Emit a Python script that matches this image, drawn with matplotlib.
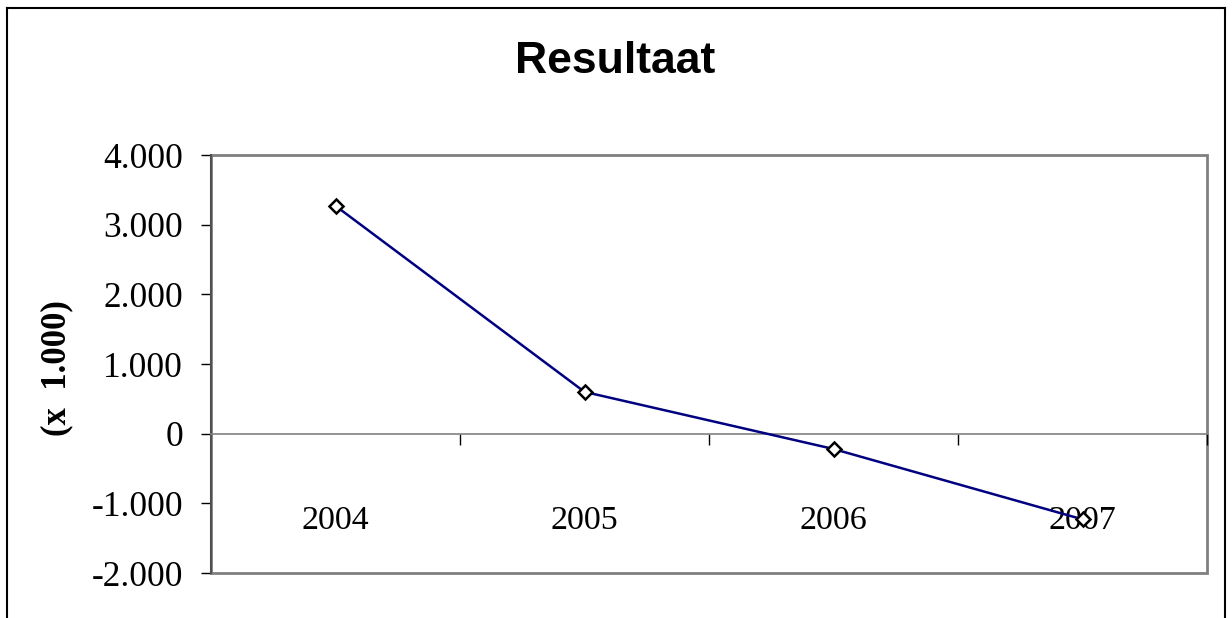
import matplotlib
matplotlib.use("Agg")
import matplotlib.pyplot as plt
from matplotlib.patches import Rectangle
from matplotlib.lines import Line2D
from matplotlib.ticker import FuncFormatter, FixedLocator

years = ["2004", "2005", "2006", "2007"]
resultaat = [3270, 600, -220, -1230]
y_ticks = [-2000, -1000, 0, 1000, 2000, 3000, 4000]

fig = plt.figure(figsize=(12.32, 6.18), dpi=100)
ax = fig.add_axes([211 / 1232, 1 - 573 / 618, 996 / 1232, 418 / 618])

x = list(range(len(years)))
ax.plot(x, resultaat, color="#000080", linewidth=1.8, marker="D", markersize=7.5,
        markerfacecolor="white", markeredgecolor="black", markeredgewidth=1.8, zorder=5)

ax.set_xlim(-0.5, len(years) - 0.5)
ax.set_ylim(-2000, 4000)

# y axis
ax.set_yticks(y_ticks)
ax.yaxis.set_major_formatter(FuncFormatter(lambda v, p: f"{v:,.0f}".replace(",", ".")))
ax.tick_params(axis="y", direction="out", length=7.2, width=1, color="black", pad=13,
               labelsize=25.5)
for lab in ax.get_yticklabels():
    lab.set_family("Liberation Serif")

# x axis sits on zero, category labels lower down
ax.spines["bottom"].set_position(("data", 0))
ax.spines["bottom"].set_color("#808080")
ax.spines["bottom"].set_linewidth(1.2)
ax.set_xticks(x)
ax.set_xticklabels(years, family="Liberation Serif", fontsize=24.5)
ax.xaxis.set_minor_locator(FixedLocator([i + 0.5 for i in range(len(years))]))
ax.tick_params(axis="x", which="major", length=0, pad=52)
ax.tick_params(axis="x", which="minor", direction="out", length=8, width=1, color="black")

ax.spines["left"].set_color("#505050")
ax.spines["left"].set_linewidth(1.5)
for s in ["top", "right"]:
    ax.spines[s].set_visible(False)
ax.add_patch(Rectangle((0, 0), 1, 1, transform=ax.transAxes, fill=False,
                       edgecolor="#808080", linewidth=2, clip_on=False, zorder=0))

# title and axis label
fig.text(615.5 / 1232, 1 - 73 / 618, "Resultaat", ha="center", va="baseline",
         family="Liberation Sans", fontweight="bold", fontsize=32)
fig.text(57 / 1232, 1 - 368 / 618, "(x  1.000)", ha="center", va="center", rotation=90,
         family="Liberation Serif", fontweight="bold", fontsize=25)

# outer chart border
x0, x1, yt = 7 / 1232, 1225 / 1232, 1 - 8 / 618
for xs, ys in [([x0, x0], [0, yt]), ([x0, x1], [yt, yt]), ([x1, x1], [yt, 0])]:
    fig.add_artist(Line2D(xs, ys, color="black", linewidth=1.5, transform=fig.transFigure))

fig.savefig("out.png", dpi=100)
